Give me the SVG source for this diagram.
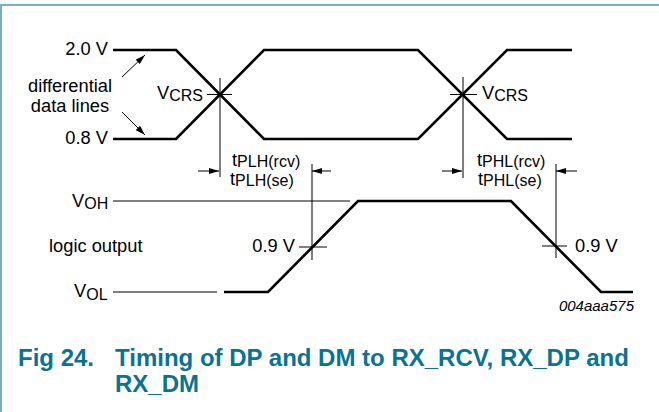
<svg xmlns="http://www.w3.org/2000/svg" width="659" height="412" viewBox="0 0 659 412">
<style>
.t{font-family:"Liberation Sans",Arial,sans-serif;font-size:18.3px;fill:#000}
.s{font-size:16px}
.thick{fill:none;stroke:#000;stroke-width:2.6;stroke-linejoin:miter}
.thin{fill:none;stroke:#000;stroke-width:1}
.cap{font-family:"Liberation Sans",Arial,sans-serif;font-size:24px;font-weight:bold;fill:#0a7390}
.code{font-family:"Liberation Sans",Arial,sans-serif;font-size:15px;font-style:italic;fill:#000}
</style>
<defs>
<marker id="ah" viewBox="0 0 10 6" refX="10" refY="3" markerWidth="10" markerHeight="6" markerUnits="userSpaceOnUse" orient="auto">
<path d="M0,0 L10,3 L0,6 Z" fill="#000"/>
</marker>
</defs>
<rect width="659" height="412" fill="#fff"/>
<g id="frame">
<line x1="0" y1="5" x2="659" y2="5" stroke="#7ab1c2" stroke-width="2"/>
<line x1="1" y1="4" x2="1" y2="412" stroke="#7ab1c2" stroke-width="2"/>
</g>
<g id="data-lines">
<path class="thick" d="M113,50 H176 L264,139 H418 L507,50 H572"/>
<path class="thick" d="M113,139 H176 L264,50 H418 L507,139 H572"/>
</g>
<g id="logic-output">
<path class="thick" d="M224,292 H268 L358,201 H511 L601,292 H633"/>
<line class="thin" x1="113" y1="201" x2="350" y2="201"/>
<line class="thin" x1="113" y1="292" x2="217" y2="292"/>
</g>
<g id="connectors">
<line class="thin" x1="207" y1="94.5" x2="232" y2="94.5"/>
<line class="thin" x1="220" y1="78" x2="220" y2="177"/>
<line class="thin" x1="450" y1="94.5" x2="477" y2="94.5"/>
<line class="thin" x1="463" y1="77" x2="463" y2="178"/>
<line class="thin" x1="312" y1="164" x2="312" y2="260"/>
<line class="thin" x1="299" y1="247" x2="327" y2="247"/>
<line class="thin" x1="556" y1="164" x2="556" y2="258"/>
<line class="thin" x1="542" y1="246" x2="567" y2="246"/>
<line class="thin" x1="198" y1="171" x2="219" y2="171" marker-end="url(#ah)"/>
<line class="thin" x1="331" y1="171" x2="312" y2="171" marker-end="url(#ah)"/>
<line class="thin" x1="442" y1="171" x2="462" y2="171" marker-end="url(#ah)"/>
<line class="thin" x1="577" y1="171" x2="556" y2="171" marker-end="url(#ah)"/>
<line class="thin" x1="122" y1="77" x2="145" y2="55" marker-end="url(#ah)"/>
<line class="thin" x1="122" y1="112" x2="145" y2="135" marker-end="url(#ah)"/>
</g>
<g id="labels">
<text class="t" x="108" y="55" text-anchor="end">2.0 V</text>
<text class="t" x="108" y="144" text-anchor="end">0.8 V</text>
<text class="t" x="70" y="92" text-anchor="middle">differential</text>
<text class="t" x="70" y="112" text-anchor="middle">data lines</text>
<text class="t" x="157" y="99">V<tspan class="s" dy="2">CRS</tspan></text>
<text class="t" x="482" y="99">V<tspan class="s" dy="2">CRS</tspan></text>
<text class="t" x="232" y="166">t<tspan class="s" dy="1">PLH(rcv)</tspan></text>
<text class="t" x="230" y="185">t<tspan class="s" dy="1">PLH(se)</tspan></text>
<text class="t" x="477" y="166">t<tspan class="s" dy="1">PHL(rcv)</tspan></text>
<text class="t" x="478" y="185">t<tspan class="s" dy="1">PHL(se)</tspan></text>
<text class="t" x="72" y="207">V<tspan class="s" dy="2">OH</tspan></text>
<text class="t" x="49" y="252">logic output</text>
<text class="t" x="295" y="252" text-anchor="end">0.9 V</text>
<text class="t" x="575" y="252">0.9 V</text>
<text class="t" x="74" y="297">V<tspan class="s" dy="3">OL</tspan></text>
<text class="code" x="634" y="311" text-anchor="end">004aaa575</text>
</g>
<g id="caption">
<text class="cap" x="18" y="366">Fig 24.</text>
<text class="cap" x="115" y="366">Timing of DP and DM to RX_RCV, RX_DP and</text>
<text class="cap" x="115" y="392">RX_DM</text>
</g>
</svg>
